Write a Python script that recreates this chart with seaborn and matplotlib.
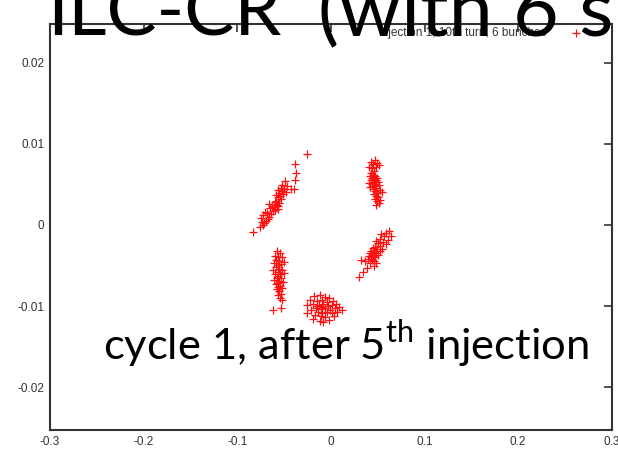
import numpy as np
import pandas as pd
import seaborn as sns
import matplotlib.pyplot as plt

# Particle positions (x, y) after the 10th turn, grouped by bunch
bunch1_x = [-0.025, -0.038, -0.037, -0.038, -0.049, -0.039, -0.047, -0.050, -0.052, -0.053,
            -0.055, -0.051, -0.054, -0.056, -0.048, -0.053, -0.057, -0.059, -0.055, -0.058,
            -0.060, -0.061, -0.057, -0.063, -0.062, -0.065, -0.064, -0.066, -0.068, -0.067,
            -0.070, -0.069, -0.072, -0.071, -0.074, -0.076, -0.075, -0.083, -0.059, -0.056,
            -0.043, -0.052, -0.060, -0.066, -0.073]
bunch1_y = [0.0088, 0.0075, 0.0064, 0.0056, 0.0054, 0.0045, 0.0048, 0.0044, 0.0042, 0.0046,
            0.0040, 0.0038, 0.0036, 0.0043, 0.0041, 0.0032, 0.0034, 0.0030, 0.0027, 0.0025,
            0.0028, 0.0022, 0.0020, 0.0024, 0.0017, 0.0021, 0.0013, 0.0010, 0.0015, 0.0008,
            0.0016, 0.0005, 0.0012, 0.0002, 0.0004, -0.0003, 0.0009, -0.0009, 0.0037, 0.0024,
            0.0045, 0.0049, 0.0019, 0.0026, 0.0000]

bunch2_x = [0.043, 0.047, 0.045, 0.049, 0.041, 0.044, 0.048, 0.051, 0.046, 0.043,
            0.045, 0.047, 0.044, 0.042, 0.046, 0.048, 0.043, 0.045, 0.041, 0.047,
            0.049, 0.050, 0.044, 0.046, 0.042, 0.048, 0.051, 0.045, 0.047, 0.049,
            0.052, 0.046, 0.055, 0.048, 0.050, 0.047, 0.049, 0.051, 0.048, 0.053]
bunch2_y = [0.0078, 0.0080, 0.0075, 0.0077, 0.0072, 0.0070, 0.0071, 0.0074, 0.0067, 0.0064,
            0.0062, 0.0060, 0.0058, 0.0060, 0.0057, 0.0055, 0.0055, 0.0053, 0.0052, 0.0051,
            0.0058, 0.0053, 0.0050, 0.0048, 0.0047, 0.0046, 0.0049, 0.0044, 0.0042, 0.0040,
            0.0043, 0.0038, 0.0041, 0.0036, 0.0034, 0.0032, 0.0029, 0.0027, 0.0025, 0.0031]

bunch3_x = [0.062, 0.059, 0.064, 0.057, 0.061, 0.054, 0.056, 0.052, 0.059, 0.050,
            0.053, 0.048, 0.047, 0.049, 0.045, 0.043, 0.046, 0.048, 0.044, 0.042,
            0.045, 0.047, 0.043, 0.041, 0.050, 0.044, 0.046, 0.040, 0.048, 0.042,
            0.032, 0.036, 0.039, 0.046, 0.030, 0.034, 0.052, 0.055]
bunch3_y = [-0.0007, -0.0010, -0.0013, -0.0014, -0.0018, -0.0011, -0.0021, -0.0017, -0.0024, -0.0022,
            -0.0026, -0.0020, -0.0027, -0.0030, -0.0029, -0.0032, -0.0033, -0.0035, -0.0036, -0.0035,
            -0.0038, -0.0039, -0.0040, -0.0038, -0.0037, -0.0043, -0.0045, -0.0042, -0.0047, -0.0047,
            -0.0043, -0.0045, -0.0053, -0.0050, -0.0064, -0.0058, -0.0032, -0.0030]

bunch4_x = [-0.058, -0.054, -0.060, -0.056, -0.052, -0.059, -0.055, -0.061, -0.057, -0.053,
            -0.050, -0.059, -0.055, -0.052, -0.062, -0.057, -0.054, -0.060, -0.050, -0.056,
            -0.058, -0.053, -0.061, -0.055, -0.057, -0.051, -0.059, -0.054, -0.056, -0.052,
            -0.058, -0.055, -0.053, -0.054, -0.052, -0.062, -0.053, -0.057]
bunch4_y = [-0.0032, -0.0034, -0.0038, -0.0040, -0.0039, -0.0043, -0.0045, -0.0047, -0.0049, -0.0048,
            -0.0046, -0.0052, -0.0054, -0.0055, -0.0056, -0.0058, -0.0060, -0.0061, -0.0059, -0.0063,
            -0.0066, -0.0065, -0.0068, -0.0069, -0.0071, -0.0070, -0.0073, -0.0075, -0.0077, -0.0078,
            -0.0079, -0.0082, -0.0085, -0.0090, -0.0093, -0.0105, -0.0103, -0.0086]

bunch5_x = [-0.018, -0.012, -0.006, -0.002, -0.022, -0.015, -0.009, -0.004, 0.002, 0.006,
            -0.025, -0.019, -0.013, -0.008, -0.003, 0.001, 0.009, -0.016, -0.011, -0.006,
            -0.001, 0.004, -0.021, -0.014, -0.009, -0.004, 0.001, 0.007, 0.012, -0.026,
            -0.017, -0.011, -0.006, 0.003, -0.019, -0.012, -0.002, -0.008, -0.015, -0.010]
bunch5_y = [-0.0088, -0.0086, -0.0089, -0.0090, -0.0093, -0.0094, -0.0092, -0.0095, -0.0094, -0.0097,
            -0.0099, -0.0098, -0.0099, -0.0097, -0.0100, -0.0099, -0.0101, -0.0102, -0.0104, -0.0102,
            -0.0105, -0.0103, -0.0105, -0.0107, -0.0108, -0.0107, -0.0109, -0.0107, -0.0105, -0.0108,
            -0.0111, -0.0112, -0.0113, -0.0112, -0.0116, -0.0118, -0.0117, -0.0120, -0.0100, -0.0101]

x_ticks = [-0.3, -0.2, -0.1, 0.0, 0.1, 0.2, 0.3]
x_tick_labels = ["-0.3", "-0.2", "-0.1", "0", "0.1", "0.2", "0.3"]
y_ticks = [-0.02, -0.01, 0.0, 0.01, 0.02]
y_tick_labels = ["-0.02", "-0.01", "0", "0.01", "0.02"]

series_label = "injection 1, 10th turn, 6 bunches"
title_head = "ILC-CR"
title_tail = "(with 6 s"
caption_text = r"cycle 1, after 5$^{\mathrm{th}}$ injection"

df = pd.DataFrame({
    "x": bunch1_x + bunch2_x + bunch3_x + bunch4_x + bunch5_x,
    "y": bunch1_y + bunch2_y + bunch3_y + bunch4_y + bunch5_y,
})

sns.set_theme(style="white")
plt.rcParams["font.family"] = ["Liberation Sans", "DejaVu Sans"]
plt.rcParams["mathtext.fontset"] = "custom"
plt.rcParams["mathtext.rm"] = "Lato"

W, H = 618, 449
fig = plt.figure(figsize=(W / 100, H / 100), dpi=100)
ax = fig.add_axes([0.0809, 0.0423, 0.909, 0.9042])

sns.scatterplot(data=df, x="x", y="y", ax=ax, marker="+", color="#ff1010",
                s=38, linewidth=0.9, label=series_label)

ax.set_xlim(-0.3, 0.3)
ax.set_ylim(-0.0253, 0.0248)
ax.set_xticks(x_ticks)
ax.set_xticklabels(x_tick_labels)
ax.set_yticks(y_ticks)
ax.set_yticklabels(y_tick_labels)
ax.set_xlabel("")
ax.set_ylabel("")
ax.tick_params(axis="both", which="both", direction="in", length=6, width=1.2,
               color="#333333", labelsize=8.5, labelcolor="#333333",
               top=True, right=True, pad=4)
for side in ax.spines.values():
    side.set_color("#333333")
    side.set_linewidth(1.5)

leg = ax.legend(loc="upper right", bbox_to_anchor=(582 / W, 1 - 27 / H),
                bbox_transform=fig.transFigure, frameon=False, markerfirst=False,
                fontsize=8.5, handlelength=1.0, handletextpad=2.0,
                borderaxespad=0.0, borderpad=0.0, labelcolor="#333333")

fig.text(47 / W, 1 - 36 / H, title_head, fontsize=54, family="Lato",
         color="black", va="baseline", ha="left")
fig.text(318 / W, 1 - 36 / H, title_tail, fontsize=57, family="Lato",
         color="black", va="baseline", ha="left")
fig.text(103 / W, 1 - 360 / H, caption_text, fontsize=31.3, family="Lato",
         color="black", va="baseline", ha="left")

fig.savefig("out.png", dpi=100)
